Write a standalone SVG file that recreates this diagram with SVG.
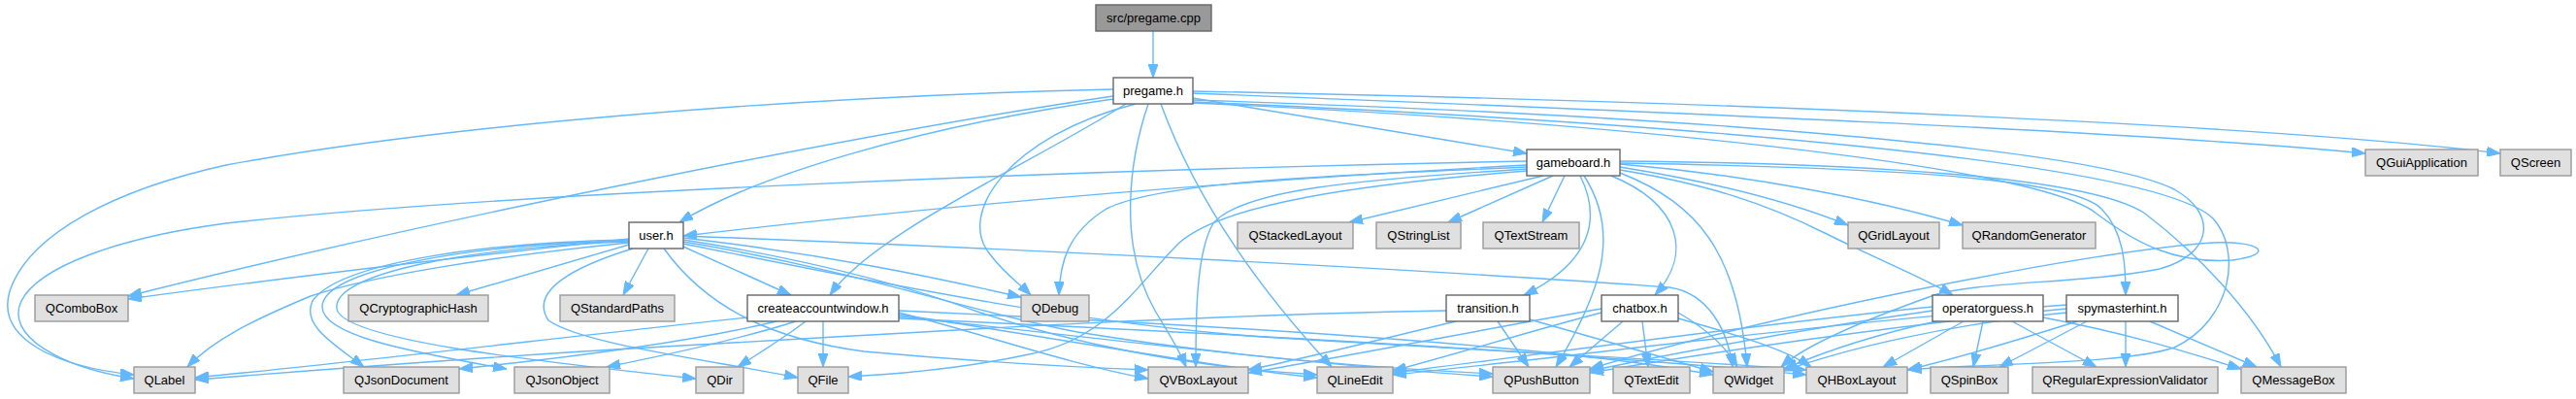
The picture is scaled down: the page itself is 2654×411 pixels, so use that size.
<svg xmlns="http://www.w3.org/2000/svg" width="2654" height="411" viewBox="0 0 2654 411">
<style>
.e{fill:none;stroke:#63b8ff;stroke-width:1.4;marker-end:url(#ah)}
.n rect{stroke-width:1.4}
.ext rect{fill:#e0e0e0;stroke:#999999}
.hdr rect{fill:#ffffff;stroke:#666666}
.root rect{fill:#999999;stroke:#666666}
.n text{font-family:"Liberation Sans",Arial,sans-serif;font-size:13px;text-anchor:middle;fill:#000000}
</style>
<defs>
<marker id="ah" markerUnits="userSpaceOnUse" markerWidth="14" markerHeight="10" viewBox="0 0 14 10" refX="14" refY="5" orient="auto">
<path d="M0,0 L14,5 L0,10 z" fill="#63b8ff" stroke="#63b8ff" stroke-width="1"/>
</marker>
</defs>
<rect width="2654" height="411" fill="#ffffff"/>
<g id="edges">
<path class="e" d="M1188,32 L1188,80"/>
<path class="e" d="M1147,92 C800,100 450,130 233,170 C120,195 30,240 10,300 C-5,350 60,378 138,386"/>
<path class="e" d="M1147,99 C900,135 450,225 132,305"/>
<path class="e" d="M1147,102 C950,130 780,180 700,229"/>
<path class="e" d="M1160,107 C1060,170 900,240 855,304"/>
<path class="e" d="M1170,107 C1040,140 985,220 1020,262 C1035,282 1050,292 1062,304"/>
<path class="e" d="M1183,107 C1165,160 1150,250 1190,320 C1205,345 1215,360 1222,378"/>
<path class="e" d="M1196,107 C1230,200 1290,290 1372,378"/>
<path class="e" d="M1229,101 L1573,158"/>
<path class="e" d="M1229,96 C1700,115 2200,135 2437,158"/>
<path class="e" d="M1229,94 C1800,105 2350,130 2576,158"/>
<path class="e" d="M1229,103 C1700,118 2150,150 2240,195 C2285,220 2280,262 2225,277 C2150,292 2030,290 1990,305 C1920,330 1860,355 1835,378"/>
<path class="e" d="M1229,105 C1700,125 2220,165 2280,225 C2310,258 2300,330 2240,358 C2190,375 2050,374 1966,381"/>
<path class="e" d="M1229,106 C1650,125 2100,170 2160,220 C2200,250 2240,272 2300,268 C2345,262 2330,248 2280,250 C2150,258 1800,330 1638,380"/>
<path class="e" d="M1573,166 C1100,175 500,200 233,230 C120,245 40,275 22,310 C5,345 60,378 138,390"/>
<path class="e" d="M1573,170 C1200,190 900,220 704,243"/>
<path class="e" d="M1573,172 C1400,180 1200,185 1140,215 C1100,240 1092,270 1091,304"/>
<path class="e" d="M1573,174 C1400,185 1280,195 1250,230 C1232,260 1232,330 1232,378"/>
<path class="e" d="M1573,176 C1400,190 1260,210 1215,250 C1170,295 1140,350 1060,365 C1000,378 930,385 874,388"/>
<path class="e" d="M1590,181 L1390,229"/>
<path class="e" d="M1600,181 L1492,229"/>
<path class="e" d="M1612,181 L1589,229"/>
<path class="e" d="M1628,181 C1650,225 1640,270 1570,304"/>
<path class="e" d="M1632,181 C1670,240 1650,300 1603,378"/>
<path class="e" d="M1660,181 C1730,210 1745,260 1705,304"/>
<path class="e" d="M1669,178 C1750,210 1790,260 1800,378"/>
<path class="e" d="M1669,175 C1760,190 1820,210 1880,240 C1940,270 1980,285 2012,304"/>
<path class="e" d="M1669,172 C1780,190 1850,210 1904,232"/>
<path class="e" d="M1669,169 C1800,180 1930,205 2022,232"/>
<path class="e" d="M1669,168 C1900,172 2130,180 2165,215 C2190,240 2190,280 2190,304"/>
<path class="e" d="M1669,166 C1900,168 2150,180 2210,220 C2265,262 2320,320 2350,378"/>
<path class="e" d="M648,246 C500,262 300,285 132,308"/>
<path class="e" d="M648,250 C500,265 380,285 320,305 C260,330 220,350 193,378"/>
<path class="e" d="M648,247 C500,250 350,270 322,310 C310,335 345,355 375,378"/>
<path class="e" d="M648,248 C480,252 335,278 332,315 C330,345 420,362 522,380"/>
<path class="e" d="M648,249 C480,255 342,282 347,318 C352,350 550,372 717,390"/>
<path class="e" d="M652,256 C590,275 545,300 565,330 C600,355 740,372 822,389"/>
<path class="e" d="M648,252 L470,304"/>
<path class="e" d="M668,256 L642,304"/>
<path class="e" d="M704,254 L815,304"/>
<path class="e" d="M704,245 C850,262 960,285 1052,306"/>
<path class="e" d="M704,247 C850,270 950,300 1010,322 C1100,352 1220,378 1357,386"/>
<path class="e" d="M704,249 C900,282 1000,322 1110,342 C1250,365 1400,378 1538,385"/>
<path class="e" d="M704,251 C900,290 1100,332 1300,347 C1550,362 1750,372 1861,381"/>
<path class="e" d="M684,256 C730,320 800,350 890,362 C1000,372 1100,378 1183,381"/>
<path class="e" d="M704,243 C1100,258 1500,280 1720,296 C1760,302 1780,340 1785,378"/>
<path class="e" d="M770,327 C600,345 350,375 201,389"/>
<path class="e" d="M800,331 C700,355 570,370 473,380"/>
<path class="e" d="M820,331 C760,350 690,365 625,378"/>
<path class="e" d="M830,331 C805,350 780,365 760,378"/>
<path class="e" d="M848,331 L848,378"/>
<path class="e" d="M926,322 C1000,340 1100,375 1183,390"/>
<path class="e" d="M926,324 C1100,350 1250,378 1357,389"/>
<path class="e" d="M926,326 C1150,350 1350,376 1538,388"/>
<path class="e" d="M926,320 C1250,335 1600,355 1765,386"/>
<path class="e" d="M926,328 C1300,345 1650,366 1861,386"/>
<path class="e" d="M1490,320 C1200,325 900,345 600,362 C400,375 280,385 201,391"/>
<path class="e" d="M1500,331 C1420,350 1350,368 1286,381"/>
<path class="e" d="M1543,331 L1575,378"/>
<path class="e" d="M1576,329 C1650,350 1720,370 1765,383"/>
<path class="e" d="M1650,322 C1580,340 1500,365 1435,382"/>
<path class="e" d="M1650,318 C1550,335 1400,365 1286,384"/>
<path class="e" d="M1672,331 L1617,378"/>
<path class="e" d="M1692,331 L1698,378"/>
<path class="e" d="M1729,322 C1760,340 1780,360 1790,378"/>
<path class="e" d="M1729,328 C1790,345 1840,360 1866,378"/>
<path class="e" d="M1991,316 C1800,335 1550,370 1435,384"/>
<path class="e" d="M1991,320 C1850,340 1720,365 1638,382"/>
<path class="e" d="M1995,331 C1930,345 1880,362 1838,380"/>
<path class="e" d="M2023,331 L1940,378"/>
<path class="e" d="M2043,331 L2033,378"/>
<path class="e" d="M2073,331 L2160,378"/>
<path class="e" d="M2105,327 C2200,345 2260,365 2309,380"/>
<path class="e" d="M2129,314 C1900,330 1600,370 1435,386"/>
<path class="e" d="M2129,318 C1950,335 1750,365 1638,384"/>
<path class="e" d="M2129,322 C2000,335 1900,360 1838,382"/>
<path class="e" d="M2140,331 C2080,350 2020,368 1965,381"/>
<path class="e" d="M2150,331 L2060,378"/>
<path class="e" d="M2190,331 L2190,378"/>
<path class="e" d="M2215,331 L2325,378"/>
</g>
<g id="node-pregame-cpp" class="n root"><rect x="1129" y="5" width="119" height="27"/><text x="1188.5" y="23">src/pregame.cpp</text></g>
<g id="node-pregame-h" class="n hdr"><rect x="1147" y="80" width="82" height="27"/><text x="1188" y="98">pregame.h</text></g>
<g id="node-gameboard-h" class="n hdr"><rect x="1573" y="154" width="96" height="27"/><text x="1621" y="172">gameboard.h</text></g>
<g id="node-QGuiApplication" class="n ext"><rect x="2437" y="154" width="116" height="27"/><text x="2495" y="172">QGuiApplication</text></g>
<g id="node-QScreen" class="n ext"><rect x="2576" y="154" width="73" height="27"/><text x="2612.5" y="172">QScreen</text></g>
<g id="node-user-h" class="n hdr"><rect x="648" y="229" width="56" height="27"/><text x="676" y="247">user.h</text></g>
<g id="node-QStackedLayout" class="n ext"><rect x="1275" y="229" width="119" height="27"/><text x="1334.5" y="247">QStackedLayout</text></g>
<g id="node-QStringList" class="n ext"><rect x="1418" y="229" width="87" height="27"/><text x="1461.5" y="247">QStringList</text></g>
<g id="node-QTextStream" class="n ext"><rect x="1528" y="229" width="99" height="27"/><text x="1577.5" y="247">QTextStream</text></g>
<g id="node-QGridLayout" class="n ext"><rect x="1904" y="229" width="94" height="27"/><text x="1951" y="247">QGridLayout</text></g>
<g id="node-QRandomGenerator" class="n ext"><rect x="2022" y="229" width="137" height="27"/><text x="2090.5" y="247">QRandomGenerator</text></g>
<g id="node-QComboBox" class="n ext"><rect x="36" y="304" width="96" height="27"/><text x="84" y="322">QComboBox</text></g>
<g id="node-QCryptographicHash" class="n ext"><rect x="359" y="304" width="144" height="27"/><text x="431" y="322">QCryptographicHash</text></g>
<g id="node-QStandardPaths" class="n ext"><rect x="577" y="304" width="118" height="27"/><text x="636" y="322">QStandardPaths</text></g>
<g id="node-createaccountwindow-h" class="n hdr"><rect x="770" y="304" width="156" height="27"/><text x="848" y="322">createaccountwindow.h</text></g>
<g id="node-QDebug" class="n ext"><rect x="1052" y="304" width="70" height="27"/><text x="1087" y="322">QDebug</text></g>
<g id="node-transition-h" class="n hdr"><rect x="1490" y="304" width="86" height="27"/><text x="1533" y="322">transition.h</text></g>
<g id="node-chatbox-h" class="n hdr"><rect x="1650" y="304" width="79" height="27"/><text x="1689.5" y="322">chatbox.h</text></g>
<g id="node-operatorguess-h" class="n hdr"><rect x="1991" y="304" width="114" height="27"/><text x="2048" y="322">operatorguess.h</text></g>
<g id="node-spymasterhint-h" class="n hdr"><rect x="2129" y="304" width="115" height="27"/><text x="2186.5" y="322">spymasterhint.h</text></g>
<g id="node-QLabel" class="n ext"><rect x="138" y="378" width="63" height="27"/><text x="169.5" y="396">QLabel</text></g>
<g id="node-QJsonDocument" class="n ext"><rect x="354" y="378" width="119" height="27"/><text x="413.5" y="396">QJsonDocument</text></g>
<g id="node-QJsonObject" class="n ext"><rect x="530" y="378" width="98" height="27"/><text x="579" y="396">QJsonObject</text></g>
<g id="node-QDir" class="n ext"><rect x="717" y="378" width="49" height="27"/><text x="741.5" y="396">QDir</text></g>
<g id="node-QFile" class="n ext"><rect x="822" y="378" width="52" height="27"/><text x="848" y="396">QFile</text></g>
<g id="node-QVBoxLayout" class="n ext"><rect x="1183" y="378" width="103" height="27"/><text x="1234.5" y="396">QVBoxLayout</text></g>
<g id="node-QLineEdit" class="n ext"><rect x="1357" y="378" width="78" height="27"/><text x="1396" y="396">QLineEdit</text></g>
<g id="node-QPushButton" class="n ext"><rect x="1538" y="378" width="100" height="27"/><text x="1588" y="396">QPushButton</text></g>
<g id="node-QTextEdit" class="n ext"><rect x="1662" y="378" width="79" height="27"/><text x="1701.5" y="396">QTextEdit</text></g>
<g id="node-QWidget" class="n ext"><rect x="1765" y="378" width="73" height="27"/><text x="1801.5" y="396">QWidget</text></g>
<g id="node-QHBoxLayout" class="n ext"><rect x="1861" y="378" width="104" height="27"/><text x="1913" y="396">QHBoxLayout</text></g>
<g id="node-QSpinBox" class="n ext"><rect x="1989" y="378" width="80" height="27"/><text x="2029" y="396">QSpinBox</text></g>
<g id="node-QRegularExpressionValidator" class="n ext"><rect x="2094" y="378" width="191" height="27"/><text x="2189.5" y="396">QRegularExpressionValidator</text></g>
<g id="node-QMessageBox" class="n ext"><rect x="2309" y="378" width="108" height="27"/><text x="2363" y="396">QMessageBox</text></g>
</svg>
